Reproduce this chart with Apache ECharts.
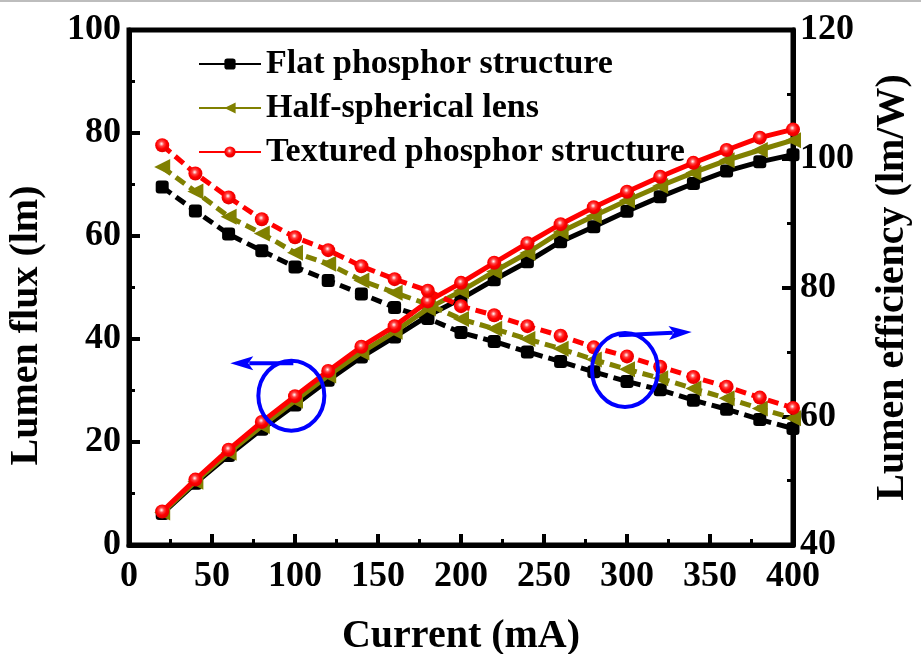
<!DOCTYPE html>
<html>
<head>
<meta charset="utf-8">
<script src="https://cdn.jsdelivr.net/npm/echarts@6/dist/echarts.min.js"></script>
<style>
  html, body { margin: 0; padding: 0; background: #fff; }
  #chart { width: 921px; height: 654px; }
</style>
</head>
<body>
<div id="chart"></div>
<script>
var currents = [20, 40, 60, 80, 100, 120, 140, 160, 180, 200, 220, 240, 260, 280, 300, 320, 340, 360, 380, 400];

// lumen flux (lm), left axis
var fluxFlat = [6.1, 12.0, 17.4, 22.5, 27.2, 32.0, 36.5, 40.4, 44.5, 47.8, 51.5, 55.0, 58.9, 61.8, 64.8, 67.6, 70.2, 72.6, 74.4, 75.8];
var fluxHalf = [6.3, 12.3, 17.9, 23.1, 28.0, 32.9, 37.4, 41.4, 45.9, 49.3, 53.1, 56.7, 60.8, 63.9, 66.9, 69.7, 72.3, 74.7, 76.7, 78.6];
var fluxTextured = [6.5, 12.7, 18.5, 23.9, 28.9, 33.8, 38.5, 42.5, 47.3, 50.9, 54.8, 58.6, 62.3, 65.6, 68.6, 71.5, 74.2, 76.7, 79.1, 80.7];

// lumen efficiency (lm/W), right axis
var effFlat = [95.6, 91.9, 88.3, 85.7, 83.2, 81.1, 79.0, 76.9, 75.2, 73.0, 71.6, 70.0, 68.5, 66.9, 65.4, 64.1, 62.5, 61.1, 59.5, 58.1];
var effHalf = [98.7, 94.9, 91.0, 88.4, 85.4, 83.7, 81.1, 79.2, 77.4, 75.1, 73.6, 72.0, 70.5, 68.8, 67.3, 65.9, 64.3, 62.8, 61.2, 59.7];
var effTextured = [102.1, 97.7, 94.0, 90.6, 87.8, 85.8, 83.3, 81.3, 79.5, 77.1, 75.7, 74.0, 72.5, 70.7, 69.3, 67.7, 66.1, 64.6, 62.9, 61.3];

var seriesNames = ["Flat phosphor structure", "Half-spherical lens", "Textured phosphor structure"];

// blue annotation marks, in data coords [current, value]
var leftCircle = [97.8, 29.0];
var leftArrow = [[99, 35.3], [61, 35.3]];
var rightCircle = [298.8, 67.2];
var rightArrow = [[295, 72.6], [339, 73.1]];

var FONT = "Liberation Serif";
var redBall = {
  type: "radial", x: 0.45, y: 0.4, r: 0.6,
  colorStops: [{ offset: 0, color: "#ffffff" }, { offset: 0.3, color: "#ff4040" }, { offset: 0.6, color: "#ff0000" }, { offset: 1, color: "#e00000" }]
};

function pairs(xs, ys) {
  return xs.map(function (x, i) { return [x, ys[i]]; });
}

var styles = [
  { color: "#000000", symbol: "roundRect", size: 13, rotate: 0 },
  { color: "#808000", symbol: "triangle", size: 16, rotate: 90 },
  { color: "#ff0000", symbol: "circle", size: 14, rotate: 0, fill: redBall }
];

var fluxSets = [fluxFlat, fluxHalf, fluxTextured];
var effSets = [effFlat, effHalf, effTextured];
var series = [];
for (var i = 0; i < 3; i++) {
  var s = styles[i];
  series.push({
    name: seriesNames[i], type: "line", yAxisIndex: 0,
    data: pairs(currents, fluxSets[i]),
    symbol: s.symbol, symbolSize: s.size, symbolRotate: s.rotate,
    lineStyle: { color: s.color, width: 5 },
    itemStyle: { color: s.fill || s.color },
    z: 3 + i
  });
}
for (var j = 0; j < 3; j++) {
  var t = styles[j];
  series.push({
    name: seriesNames[j], type: "line", yAxisIndex: 1,
    data: pairs(currents, effSets[j]),
    symbol: t.symbol, symbolSize: t.size, symbolRotate: t.rotate,
    lineStyle: { color: t.color, width: 5, type: [11, 6] },
    itemStyle: { color: t.fill || t.color },
    z: 3 + j
  });
}

var chartDom = document.getElementById("chart");
var chart = echarts.init(chartDom);

var tickLabel = { fontFamily: FONT, fontWeight: "bold", fontSize: 36, color: "#000" };
var nameText = { fontFamily: FONT, fontWeight: "bold", fontSize: 40, color: "#000" };

var option = {
  animation: false,
  backgroundColor: "#fff",
  grid: {
    left: 129, right: 128, top: 30, bottom: 109, outerBoundsMode: "none",
    show: true, borderColor: "#000", borderWidth: 5
  },
  legend: {
    orient: "vertical", left: 193, top: 42, itemWidth: 62, itemHeight: 14, itemGap: 10,
    textStyle: { fontFamily: FONT, fontWeight: "bold", fontSize: 34, color: "#000" },
    data: seriesNames
  },
  xAxis: {
    type: "value", min: 0, max: 400, interval: 50,
    name: "Current (mA)", nameLocation: "middle", nameGap: 72, nameTextStyle: nameText,
    axisLine: { lineStyle: { color: "#000", width: 5 } },
    axisTick: { inside: true, length: 11, lineStyle: { width: 4, color: "#000" } },
    minorTick: { show: true, splitNumber: 2, length: 6, lineStyle: { width: 3, color: "#000" } },
    axisLabel: Object.assign({ margin: 14 }, tickLabel),
    splitLine: { show: false }
  },
  yAxis: [
    {
      type: "value", min: 0, max: 100, interval: 20, position: "left",
      name: "Lumen flux (lm)", nameLocation: "middle", nameGap: 82, nameRotate: 90,
      nameTextStyle: Object.assign({ padding: [0, 76, 0, 0] }, nameText),
      axisLine: { lineStyle: { color: "#000", width: 5 } },
      axisTick: { inside: true, length: 11, lineStyle: { width: 4, color: "#000" } },
      minorTick: { show: true, splitNumber: 2, length: 6, lineStyle: { width: 3, color: "#000" } },
      axisLabel: Object.assign({ margin: 8 }, tickLabel),
      splitLine: { show: false }
    },
    {
      type: "value", min: 40, max: 120, interval: 20, position: "right",
      name: "Lumen efficiency (lm/W)", nameLocation: "middle", nameGap: 80, nameRotate: 90, nameTextStyle: nameText,
      axisLine: { lineStyle: { color: "#000", width: 5 } },
      axisTick: { inside: true, length: 11, lineStyle: { width: 4, color: "#000" } },
      minorTick: { show: true, splitNumber: 2, length: 6, lineStyle: { width: 3, color: "#000" } },
      axisLabel: Object.assign({ margin: 7 }, tickLabel),
      splitLine: { show: false }
    }
  ],
  series: series
};

option && chart.setOption(option);

// annotations: blue circles and arrows placed through the axes
function px(point, axis) {
  return chart.convertToPixel({ xAxisIndex: 0, yAxisIndex: axis }, point);
}
function arrow(from, to) {
  var dx = to[0] - from[0], dy = to[1] - from[1];
  var len = Math.sqrt(dx * dx + dy * dy);
  var ux = dx / len, uy = dy / len;
  var hl = 23, hw = 7;
  var bx = to[0] - ux * hl, by = to[1] - uy * hl;
  return [
    { type: "line", shape: { x1: from[0], y1: from[1], x2: bx + ux * 4, y2: by + uy * 4 }, style: { stroke: "#0000ff", lineWidth: 4 }, z: 100 },
    { type: "polygon", shape: { points: [to, [bx - uy * hw, by + ux * hw], [bx + ux * 5, by + uy * 5], [bx + uy * hw, by - ux * hw]] }, style: { fill: "#0000ff" }, z: 100 }
  ];
}
var lc = px(leftCircle, 0), rc = px(rightCircle, 1);
var graphics = [
  { type: "rect", shape: { x: 0, y: 0, width: 921, height: 2 }, style: { fill: "#bdbdbd" } },
  { type: "ellipse", shape: { cx: lc[0], cy: lc[1], rx: 33, ry: 35 }, style: { fill: null, stroke: "#0000ff", lineWidth: 4 }, z: 100 },
  { type: "ellipse", shape: { cx: rc[0], cy: rc[1], rx: 33, ry: 37 }, style: { fill: null, stroke: "#0000ff", lineWidth: 4 }, z: 100 }
].concat(arrow(px(leftArrow[0], 0), px(leftArrow[1], 0)), arrow(px(rightArrow[0], 1), px(rightArrow[1], 1)));

chart.setOption({ graphic: graphics });
</script>
</body>
</html>
